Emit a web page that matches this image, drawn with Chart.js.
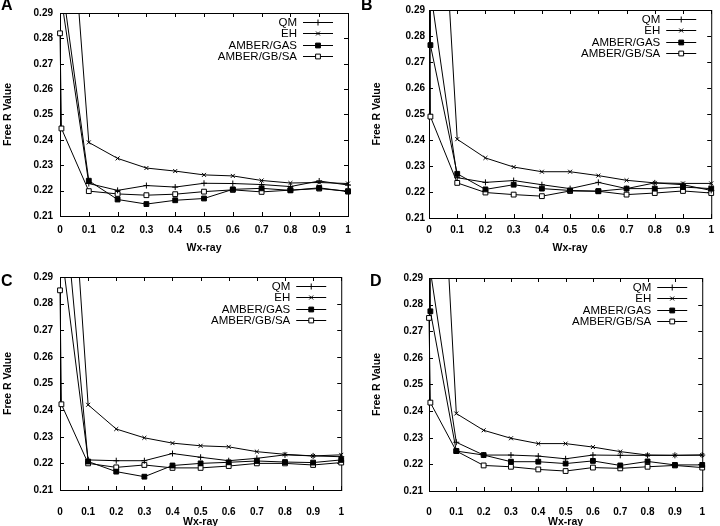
<!DOCTYPE html>
<html>
<head>
<meta charset="utf-8">
<script src="https://cdn.jsdelivr.net/npm/chart.js@4.4.1/dist/chart.umd.min.js"></script>
<style>
  body { margin: 0; background: #fff; }
  #wrap { position: relative; width: 720px; height: 526px; overflow: hidden; }
  canvas { position: absolute; }
  .tag { position: absolute; font: bold 16px "Liberation Sans", Arial, sans-serif; color: #000; }
</style>
</head>
<body>
<div id="wrap">
  <canvas id="cA" width="360" height="263" style="left:0;top:0"></canvas>
  <canvas id="cB" width="360" height="263" style="left:360px;top:0"></canvas>
  <canvas id="cC" width="360" height="263" style="left:0;top:263px"></canvas>
  <canvas id="cD" width="360" height="263" style="left:360px;top:263px"></canvas>
  <div class="tag" style="left:1px;top:-4px">A</div>
  <div class="tag" style="left:361px;top:-4px">B</div>
  <div class="tag" style="left:1px;top:272px">C</div>
  <div class="tag" style="left:370px;top:272px">D</div>
</div>
<script>
// x positions (Wx-ray) shared by every curve
const wx = [0, 0.005, 0.1, 0.2, 0.3, 0.4, 0.5, 0.6, 0.7, 0.8, 0.9, 1];
const seriesNames = ["QM", "EH", "AMBER/GAS", "AMBER/GB/SA"];
const yTicks = [0.21, 0.22, 0.23, 0.24, 0.25, 0.26, 0.27, 0.28, 0.29];
const xTicks = [0, 0.1, 0.2, 0.3, 0.4, 0.5, 0.6, 0.7, 0.8, 0.9, 1];

// panel A
const qmA   = [0.45, 0.2954, 0.2228, 0.2201, 0.2220, 0.2214, 0.2229, 0.2228, 0.2224, 0.2216, 0.2238, 0.2222];
const ehA   = [0.45, 0.3815, 0.2390, 0.2327, 0.2289, 0.2277, 0.2262, 0.2258, 0.2240, 0.2230, 0.2232, 0.2228];
const gasA  = [0.45, 0.3033, 0.2239, 0.2165, 0.2147, 0.2162, 0.2169, 0.2205, 0.2209, 0.2201, 0.2211, 0.2196];
const gbsaA = [0.2820, 0.2445, 0.2198, 0.2187, 0.2182, 0.2186, 0.2196, 0.2203, 0.2195, 0.2202, 0.2208, 0.2198];
// panel B
const qmB   = [0.45, 0.2976, 0.2255, 0.2237, 0.2244, 0.2228, 0.2213, 0.2237, 0.2213, 0.2235, 0.2228, 0.2206];
const ehB   = [0.45, 0.4160, 0.2403, 0.2331, 0.2296, 0.2278, 0.2278, 0.2263, 0.2245, 0.2235, 0.2233, 0.2233];
const gasB  = [0.45, 0.2765, 0.2270, 0.2210, 0.2228, 0.2213, 0.2206, 0.2203, 0.2213, 0.2213, 0.2219, 0.2213];
const gbsaB = [0.40, 0.2490, 0.2235, 0.2198, 0.2190, 0.2184, 0.2204, 0.2203, 0.2190, 0.2196, 0.2204, 0.2196];
// panel C
const qmC   = [0.45, 0.2999, 0.2213, 0.2210, 0.2210, 0.2237, 0.2223, 0.2210, 0.2219, 0.2232, 0.2228, 0.2225];
const ehC   = [0.45, 0.3896, 0.2420, 0.2329, 0.2296, 0.2276, 0.2266, 0.2262, 0.2244, 0.2234, 0.2228, 0.2232];
const gasC  = [0.45, 0.3303, 0.2207, 0.2169, 0.2150, 0.2192, 0.2200, 0.2204, 0.2209, 0.2205, 0.2203, 0.2213];
const gbsaC = [0.2850, 0.2422, 0.2200, 0.2185, 0.2194, 0.2183, 0.2183, 0.2190, 0.2200, 0.2200, 0.2194, 0.2203];
// panel D
const qmD   = [0.45, 0.2927, 0.2283, 0.2235, 0.2235, 0.2231, 0.2221, 0.2235, 0.2234, 0.2234, 0.2234, 0.2235];
const ehD   = [0.45, 0.4186, 0.2391, 0.2328, 0.2298, 0.2278, 0.2278, 0.2265, 0.2248, 0.2235, 0.2234, 0.2235];
const gasD  = [0.45, 0.2775, 0.2250, 0.2235, 0.2210, 0.2210, 0.2203, 0.2213, 0.2196, 0.2211, 0.2198, 0.2198];
const gbsaD = [0.2750, 0.2432, 0.2250, 0.2196, 0.2191, 0.2181, 0.2175, 0.2188, 0.2185, 0.2191, 0.2196, 0.2188];

const FONT = '"Liberation Sans", Arial, sans-serif';
const styles = ["cross", "crossRot", "rect", "rect"];
const fills = ["#000", "#000", "#000", "#fff"];
const radii = [3, 2.8, 3.4, 3.4];

// frame + inward ticks on all four sides (gnuplot look)
const framePlugin = {
  id: "frame",
  beforeDatasetsDraw(chart) {
    const { ctx, chartArea: a, scales } = chart;
    ctx.save();
    ctx.strokeStyle = "#000";
    ctx.lineWidth = 1;
    ctx.strokeRect(a.left + 0.5, a.top + 0.5, a.right - a.left, a.bottom - a.top);
    ctx.beginPath();
    const tl = 4;
    scales.y.ticks.forEach(t => {
      const y = Math.round(scales.y.getPixelForValue(t.value)) + 0.5;
      ctx.moveTo(a.left, y); ctx.lineTo(a.left + tl, y);
      ctx.moveTo(a.right, y); ctx.lineTo(a.right - tl, y);
    });
    scales.x.ticks.forEach(t => {
      const x = Math.round(scales.x.getPixelForValue(t.value)) + 0.5;
      ctx.moveTo(x, a.bottom); ctx.lineTo(x, a.bottom - tl);
      ctx.moveTo(x, a.top); ctx.lineTo(x, a.top + tl);
    });
    ctx.stroke();
    ctx.restore();
  }
};

// key in the top right corner, text left of the sample
const keyPlugin = {
  id: "key",
  afterDraw(chart) {
    const { ctx, chartArea: a } = chart;
    ctx.save();
    ctx.font = "11.5px " + FONT;
    ctx.textAlign = "right";
    ctx.textBaseline = "middle";
    chart.data.datasets.forEach((ds, i) => {
      const y = Math.round(a.top + 9 + i * 11.4) + 0.5;
      const x1 = a.right - 45, x2 = a.right - 15;
      ctx.fillStyle = "#000";
      ctx.fillText(ds.label, x1 - 6, y);
      ctx.strokeStyle = "#000";
      ctx.lineWidth = 1;
      ctx.beginPath(); ctx.moveTo(x1, y); ctx.lineTo(x2, y); ctx.stroke();
      ctx.fillStyle = ds.pointBackgroundColor;
      Chart.helpers.drawPoint(ctx, { pointStyle: ds.pointStyle, radius: ds.pointRadius, borderWidth: 1, rotation: 0 }, (x1 + x2) / 2, y);
    });
    ctx.restore();
  }
};

function makeChart(p) {
  const datasets = seriesNames.map((name, i) => ({
    label: name,
    data: wx.map((x, j) => ({ x, y: p.vals[i][j] })),
    borderColor: "#000",
    borderWidth: 1,
    pointStyle: styles[i],
    pointRadius: radii[i],
    pointBorderWidth: 1,
    pointBorderColor: "#000",
    pointBackgroundColor: fills[i],
    tension: 0,
    clip: { left: 6, right: 6, top: 0, bottom: 6 }
  }));
  new Chart(document.getElementById(p.id), {
    type: "line",
    data: { datasets },
    options: {
      responsive: false,
      animation: false,
      devicePixelRatio: 1,
      layout: { padding: { left: 0, top: p.t, right: 360 - p.r, bottom: 0 } },
      plugins: { legend: { display: false }, tooltip: { enabled: false } },
      scales: {
        x: {
          type: "linear", min: xTicks[0], max: xTicks[xTicks.length - 1],
          grid: { display: false, drawTicks: false }, border: { display: false },
          afterBuildTicks: s => { s.ticks = xTicks.map(v => ({ value: v })); },
          ticks: {
            padding: p.xTickPad, color: "#000", maxRotation: 0, autoSkip: false,
            font: { family: FONT, size: 10, weight: "bold" },
            callback: v => (v === 0 || v === 1) ? String(v) : v.toFixed(1)
          },
          title: { display: true, text: "Wx-ray", color: "#000",
                   font: { family: FONT, size: 10.5, weight: "bold" },
                   padding: { top: 0, bottom: p.xTitlePad } },
          afterFit: s => { s.height = 263 - p.b; }
        },
        y: {
          min: yTicks[0], max: yTicks[yTicks.length - 1],
          grid: { display: false, drawTicks: false }, border: { display: false },
          afterBuildTicks: s => { s.ticks = yTicks.map(v => ({ value: v })); },
          ticks: {
            padding: p.yTickPad, color: "#000",
            font: { family: FONT, size: 10, weight: "bold" },
            callback: v => v.toFixed(2)
          },
          title: { display: true, text: "Free R Value", color: "#000",
                   font: { family: FONT, size: 10.5, weight: "bold" },
                   padding: { top: p.yTitlePad, bottom: 0 } },
          afterFit: s => { s.width = p.l; }
        }
      }
    },
    plugins: [framePlugin, keyPlugin]
  });
}

makeChart({ id: "cA", vals: [qmA, ehA, gasA, gbsaA], l: 60, r: 348, t: 5, b: 216,
            yTickPad: 7, yTitlePad: 1.4, xTickPad: 8, xTitlePad: 8.4 });
makeChart({ id: "cB", vals: [qmB, ehB, gasB, gbsaB], l: 69, r: 357, t: 5, b: 218,
            yTickPad: 4, yTitlePad: 10.4, xTickPad: 6, xTitlePad: 8.4 });
makeChart({ id: "cC", vals: [qmC, ehC, gasC, gbsaC], l: 60, r: 348, t: 14, b: 227,
            yTickPad: 7, yTitlePad: 1.4, xTickPad: 16, xTitlePad: -2 });
makeChart({ id: "cD", vals: [qmD, ehD, gasD, gbsaD], l: 69, r: 357, t: 15, b: 228,
            yTickPad: 6, yTitlePad: 10.4, xTickPad: 15, xTitlePad: -2 });
</script>
</body>
</html>
